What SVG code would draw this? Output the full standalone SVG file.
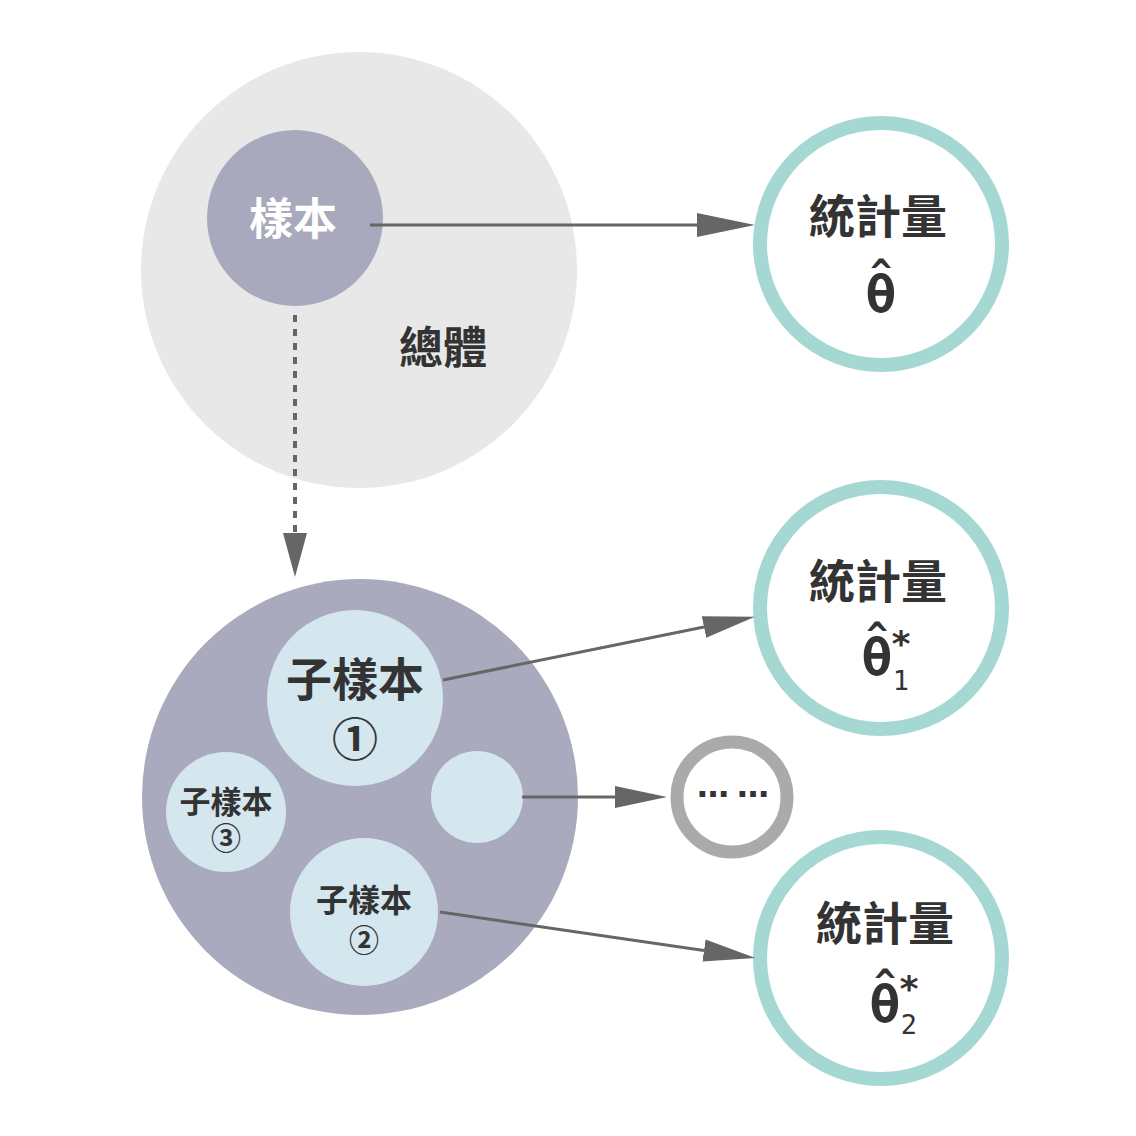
<svg xmlns="http://www.w3.org/2000/svg" width="1136" height="1136" viewBox="0 0 1136 1136">
<defs>
<style>
.t{font-family:"Noto Sans CJK TC","Noto Sans CJK SC",sans-serif;font-weight:bold;fill:#333;text-anchor:middle;dominant-baseline:central}
.m{font-family:"DejaVu Sans Mono","DejaVu Sans",monospace;font-weight:bold;fill:#333;text-anchor:middle}
.stat{fill:#fff;stroke:#a5d8d3;stroke-width:14}
.sub{fill:#d4e6ee}
.ln{stroke:#666;stroke-width:3;fill:none}
</style>
<marker id="ah" markerUnits="userSpaceOnUse" markerWidth="60" markerHeight="26" refX="0" refY="12" orient="auto" viewBox="0 0 60 24">
<path d="M0,0 L58,12 L0,24 z" fill="#666"/>
</marker>
<marker id="ah2" markerUnits="userSpaceOnUse" markerWidth="54" markerHeight="24" refX="0" refY="11" orient="auto" viewBox="0 0 54 22">
<path d="M0,0 L52,11 L0,22 z" fill="#666"/>
</marker>
<marker id="ahd" markerUnits="userSpaceOnUse" markerWidth="46" markerHeight="26" refX="0" refY="12" orient="auto" viewBox="0 0 46 24">
<path d="M0,0 L44,12 L0,24 z" fill="#666"/>
</marker>
</defs>
<rect width="1136" height="1136" fill="#fff"/>

<g id="population">
<circle cx="359" cy="270" r="218" fill="#e8e8e8"/>
<text class="t" x="443" y="345" font-size="44">總體</text>
</g>

<g id="sample">
<circle cx="295" cy="218" r="88" fill="#a9a9bd"/>
<text class="t" x="293" y="216" font-size="44" style="fill:#fff">樣本</text>
</g>

<g id="resample">
<circle cx="360" cy="797" r="218" fill="#a9aabd"/>
</g>

<g id="sub1">
<circle class="sub" cx="355" cy="698" r="88"/>
<text class="t" x="355" y="676" font-size="46">子樣本</text>
<text class="t" x="355" y="736" font-size="46">①</text>
</g>

<g id="sub3">
<circle class="sub" cx="226" cy="812" r="60"/>
<text class="t" x="226" y="799" font-size="31">子樣本</text>
<text class="t" x="226" y="836" font-size="30">③</text>
</g>

<g id="sub2">
<circle class="sub" cx="364" cy="912" r="74"/>
<text class="t" x="364" y="898" font-size="32">子樣本</text>
<text class="t" x="364" y="938" font-size="30">②</text>
</g>

<g id="subN">
<circle class="sub" cx="477" cy="797" r="46"/>
</g>

<g id="stat0">
<circle class="stat" cx="881" cy="244" r="121"/>
<text class="t" x="878" y="213" font-size="46">統計量</text>
<text class="m" font-size="52"><tspan x="881" y="284" font-size="36">^</tspan><tspan x="881" y="312">θ</tspan></text>
</g>

<g id="stat1">
<circle class="stat" cx="881" cy="608" r="121"/>
<text class="t" x="878" y="578" font-size="46">統計量</text>
<text class="m" font-size="52"><tspan x="877" y="647" font-size="36">^</tspan><tspan x="877" y="675">θ</tspan><tspan x="901" y="656" font-size="36">*</tspan><tspan x="901" y="690" font-size="27" style="font-weight:normal">1</tspan></text>
</g>

<g id="stat2">
<circle class="stat" cx="881" cy="958" r="121"/>
<text class="t" x="885" y="920" font-size="46">統計量</text>
<text class="m" font-size="52"><tspan x="885" y="994" font-size="36">^</tspan><tspan x="885" y="1022">θ</tspan><tspan x="909" y="1001" font-size="36">*</tspan><tspan x="909" y="1034" font-size="27" style="font-weight:normal">2</tspan></text>
</g>

<g id="statN">
<circle cx="732" cy="797" r="55" fill="#fff" stroke="#aaaaaa" stroke-width="13"/>
<text x="737" y="797" font-family="DejaVu Sans, sans-serif" font-weight="bold" font-size="32" letter-spacing="8" fill="#333" text-anchor="middle">……</text>
</g>

<g id="connectors">
<line class="ln" x1="370" y1="225" x2="697" y2="225" marker-end="url(#ah)"/>
<line x1="295" y1="315" x2="295" y2="533" stroke="#666" stroke-width="4" stroke-dasharray="7,7" marker-end="url(#ahd)"/>
<line class="ln" x1="443" y1="680" x2="704" y2="627" marker-end="url(#ah2)"/>
<line class="ln" x1="522" y1="797" x2="615" y2="797" marker-end="url(#ah2)"/>
<line class="ln" x1="440" y1="912" x2="704" y2="950.5" marker-end="url(#ah2)"/>
</g>
</svg>
